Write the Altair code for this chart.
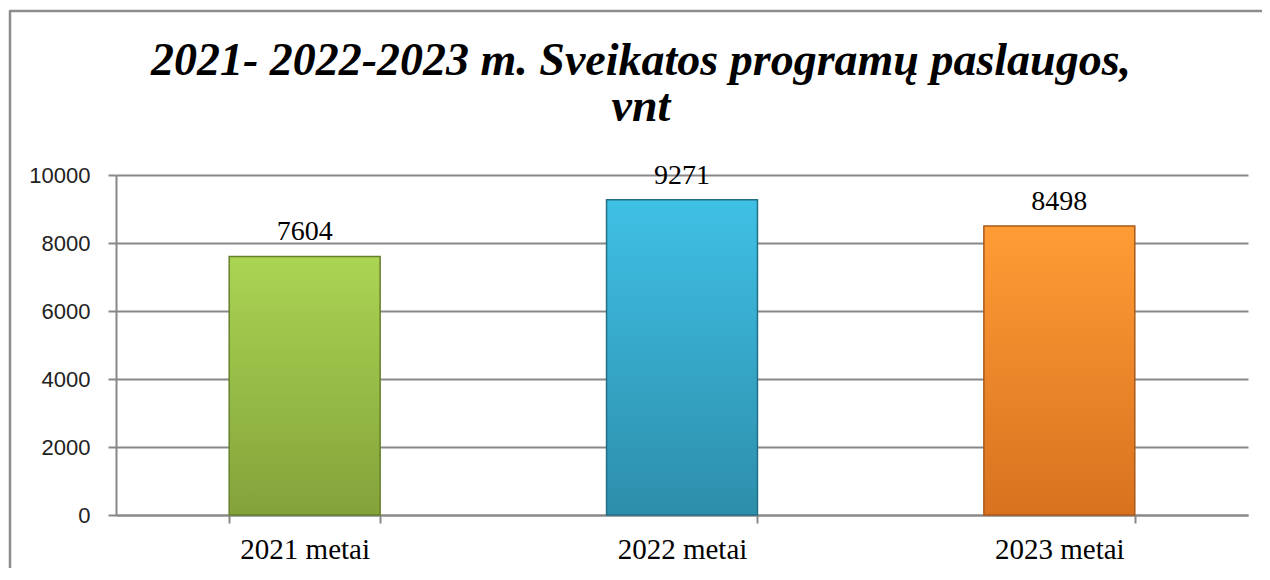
import altair as alt
import pandas as pd

categories = ["2021 metai", "2022 metai", "2023 metai"]
values = [7604, 9271, 8498]
y_ticks = [0, 2000, 4000, 6000, 8000, 10000]
title_line1 = "2021- 2022-2023 m. Sveikatos programų paslaugos,"
title_line2 = "vnt"

df = pd.DataFrame({"cat": categories, "val": values})

gradients = {
    "2021 metai": ("#abd453", "#83a33a", "#66802a"),
    "2022 metai": ("#3fc0e5", "#2d8eab", "#246f86"),
    "2023 metai": ("#ff9c35", "#d8721f", "#a95a1a"),
}

x_enc = alt.X(
    "cat:N",
    sort=categories,
    title=None,
    scale=alt.Scale(paddingInner=0.6, paddingOuter=0.3),
    axis=alt.Axis(
        labelAngle=0,
        labelFont="Liberation Serif",
        labelFontSize=29,
        labelColor="#000000",
        labelPadding=12,
        tickBand="extent",
        tickSize=8,
        tickColor="#888888",
        tickWidth=2,
        domainColor="#888888",
        domainWidth=2,
        grid=False,
    ),
)
y_enc = alt.Y(
    "val:Q",
    title=None,
    scale=alt.Scale(domain=[0, 10000], nice=False),
    axis=alt.Axis(
        values=y_ticks,
        format="d",
        labelFont="Liberation Sans",
        labelFontSize=22,
        labelColor="#222222",
        labelPadding=18,
        tickSize=8,
        tickColor="#888888",
        tickWidth=2,
        domainColor="#888888",
        domainWidth=2,
        gridColor="#888888",
        gridWidth=2,
    ),
)

base = alt.Chart(df)

bar_layers = []
for cat in categories:
    top, bottom, edge = gradients[cat]
    bar_layers.append(
        base.transform_filter(alt.datum.cat == cat)
        .mark_bar(
            color=alt.Gradient(
                gradient="linear",
                stops=[
                    alt.GradientStop(color=top, offset=0),
                    alt.GradientStop(color=bottom, offset=1),
                ],
                x1=0, x2=0, y1=0, y2=1,
            ),
            stroke=edge,
            strokeWidth=1.5,
        )
        .encode(x=x_enc, y=y_enc)
    )

labels = base.mark_text(
    font="Liberation Serif", fontSize=28, color="#000000", baseline="alphabetic", dy=-16
).encode(x=alt.X("cat:N", sort=categories), y="val:Q", text="val:Q")

one = pd.DataFrame({"a": [0]})
frame_left = alt.Chart(one).mark_rule(color="#8c8c8c", strokeWidth=2.5).encode(
    x=alt.value(-106), y=alt.value(-164), y2=alt.value(420)
)
frame_top = alt.Chart(one).mark_rule(color="#8c8c8c", strokeWidth=2.5).encode(
    x=alt.value(-107), x2=alt.value(1200), y=alt.value(-164)
)

title_style = dict(
    font="Liberation Serif", fontSize=46, fontStyle="italic", fontWeight="bold",
    color="#000000", align="center", baseline="alphabetic",
)
title1 = alt.Chart(one).mark_text(**title_style).encode(
    x=alt.value(525), y=alt.value(-100), text=alt.value(title_line1)
)
title2 = alt.Chart(one).mark_text(**title_style).encode(
    x=alt.value(525), y=alt.value(-54), text=alt.value(title_line2)
)

chart = alt.layer(frame_left, frame_top, *bar_layers, labels, title1, title2).properties(
    width=1132,
    height=340,
    padding={"left": 108, "top": 167, "right": 14, "bottom": 53},
    autosize=alt.AutoSizeParams(type="none"),
).configure(background="white").configure_view(stroke=None)

chart.save("out.html", embed_options={"renderer": "svg", "actions": False})
